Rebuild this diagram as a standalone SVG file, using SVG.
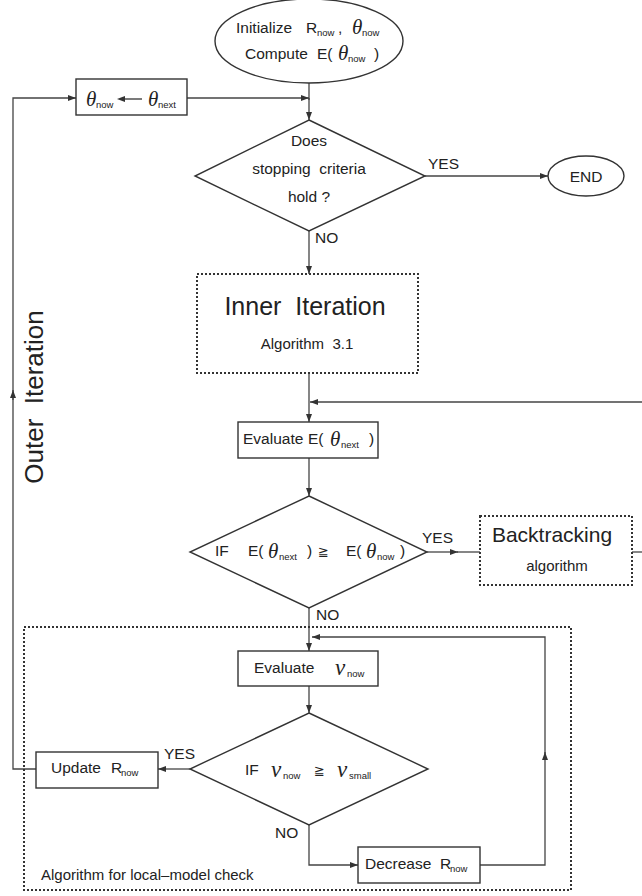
<svg xmlns="http://www.w3.org/2000/svg" width="642" height="896" viewBox="0 0 642 896">
<style>
text{font-family:"Liberation Sans","DejaVu Sans",sans-serif;fill:#222;font-size:15.5px;white-space:pre}
.g{font-family:"Liberation Serif","DejaVu Serif",serif;font-style:italic;font-size:21px}
.s{font-size:9.5px}
.sym{font-family:"DejaVu Sans",sans-serif;font-size:13px}
.shape{fill:#fff;stroke:#333;stroke-width:1.4}
.dot{fill:#fff;stroke:#333;stroke-width:2;stroke-dasharray:2 2}
.ln{fill:none;stroke:#444;stroke-width:1.3}
.lnm{fill:none;stroke:#444;stroke-width:1.3;marker-end:url(#ah)}
</style>
<defs>
<marker id="ah" viewBox="0 0 8 6" refX="8" refY="3" markerWidth="8" markerHeight="6" markerUnits="userSpaceOnUse" orient="auto">
<path d="M0,0 L8,3 L0,6 z" fill="#333"/>
</marker>
</defs>
<rect width="642" height="896" fill="#fff"/>

<g id="connectors">
<line class="ln" x1="309" y1="83" x2="309" y2="100"/>
<line class="lnm" x1="309" y1="98" x2="309" y2="120"/>
<line class="lnm" x1="187" y1="98" x2="309" y2="98"/>
<line class="lnm" x1="425" y1="176" x2="548" y2="176"/>
<line class="lnm" x1="309" y1="231" x2="309" y2="274"/>
<line class="lnm" x1="309" y1="373" x2="309" y2="422"/>
<line class="lnm" x1="642" y1="402" x2="310" y2="402"/>
<line class="ln" x1="632" y1="552" x2="642" y2="552"/>
<line class="lnm" x1="309" y1="458" x2="309" y2="496"/>
<line class="lnm" x1="427" y1="552" x2="458" y2="552"/>
<line class="ln" x1="457" y1="552" x2="480" y2="552"/>
<line class="lnm" x1="309" y1="608" x2="309" y2="651"/>
<line class="lnm" x1="309" y1="686" x2="309" y2="713"/>
<line class="lnm" x1="190" y1="769" x2="158" y2="769"/>
<polyline class="ln" points="36,769 13,769 13,392"/>
<line class="lnm" x1="13" y1="400" x2="13" y2="390"/>
<polyline class="lnm" points="13,392 13,98 76,98"/>
<polyline class="lnm" points="309,825 309,865 358,865"/>
<polyline class="lnm" points="480,865 545,865 545,752"/>
<polyline class="lnm" points="545,754 545,637 312,637"/>
</g>

<g id="start">
<ellipse class="shape" cx="309" cy="41" rx="94" ry="42"/>
<text y="33"><tspan x="236">Initialize</tspan><tspan x="306">R</tspan><tspan class="s" x="317" dy="3">now</tspan><tspan x="338" dy="-3">,</tspan></text>
<text class="g" x="352" y="34">θ</text><text class="s" x="362" y="36">now</text>
<text y="59"><tspan x="245">Compute</tspan><tspan x="317">E(</tspan></text>
<text class="g" x="338" y="60">θ</text><text class="s" x="348" y="62">now</text><text x="374" y="59">)</text>
</g>

<g id="update-theta">
<rect class="shape" x="76" y="79" width="111" height="36"/>
<text class="g" x="86" y="106">θ</text><text class="s" x="96" y="108">now</text>
<line x1="124" y1="99" x2="142" y2="99" stroke="#333" stroke-width="1.3"/>
<path d="M117,99 L125,96 L125,102 z" fill="#333"/>
<text class="g" x="148" y="106">θ</text><text class="s" x="158" y="108">next</text>
</g>

<g id="stop-check">
<polygon class="shape" points="309,120 425,176 309,231 195,176"/>
<text x="309" y="146" text-anchor="middle">Does</text>
<text x="309" y="174" text-anchor="middle">stopping  criteria</text>
<text x="309" y="202" text-anchor="middle">hold ?</text>
<text x="428" y="169">YES</text>
<text x="315" y="243">NO</text>
</g>

<g id="end">
<ellipse class="shape" cx="586" cy="176" rx="38" ry="20"/>
<text x="586" y="182" text-anchor="middle">END</text>
</g>

<g id="inner">
<rect class="dot" x="197" y="274" width="221" height="99"/>
<text x="305" y="315" text-anchor="middle" style="font-size:25px">Inner  Iteration</text>
<text x="307" y="349" text-anchor="middle" style="font-size:15px">Algorithm  3.1</text>
</g>

<g id="evaluate-e">
<rect class="shape" x="238" y="422" width="140" height="36"/>
<text x="243" y="444">Evaluate</text><text x="308" y="444">E(</text>
<text class="g" x="330" y="446">θ</text><text class="s" x="341" y="448">next</text><text x="369" y="444">)</text>
</g>

<g id="e-check">
<polygon class="shape" points="309,496 427,552 309,608 190,552"/>
<text x="215" y="556">IF</text><text x="248" y="556">E(</text>
<text class="g" x="268" y="558">θ</text><text class="s" x="279" y="560">next</text><text x="307" y="556">)</text>
<text class="sym" x="318" y="556">≧</text>
<text x="346" y="556">E(</text>
<text class="g" x="366" y="558">θ</text><text class="s" x="377" y="560">now</text><text x="400" y="556">)</text>
<text x="422" y="543">YES</text>
<text x="316" y="620">NO</text>
</g>

<g id="backtracking">
<rect class="dot" x="480" y="516" width="152" height="69"/>
<text x="552" y="542" text-anchor="middle" style="font-size:21px">Backtracking</text>
<text x="557" y="571" text-anchor="middle" style="font-size:15px">algorithm</text>
</g>

<g id="outer-label">
<text transform="translate(43,397) rotate(-90)" text-anchor="middle" style="font-size:26px">Outer  Iteration</text>
</g>

<g id="local-model">
<rect class="dot" x="24" y="627" width="547" height="263" style="fill:none"/>
<text x="41" y="880" style="font-size:15px">Algorithm for local–model check</text>
</g>

<g id="evaluate-nu">
<rect class="shape" x="238" y="651" width="140" height="35"/>
<text x="254" y="673">Evaluate</text>
<text class="g" x="335" y="675" style="font-size:23px">ν</text><text class="s" x="347" y="677">now</text>
</g>

<g id="nu-check">
<polygon class="shape" points="309,713 428,769 309,825 190,769"/>
<text x="245" y="775">IF</text>
<text class="g" x="271" y="777" style="font-size:23px">ν</text><text class="s" x="283" y="779">now</text>
<text class="sym" x="314" y="775">≧</text>
<text class="g" x="337" y="777" style="font-size:23px">ν</text><text class="s" x="349" y="779">small</text>
<text x="164" y="759">YES</text>
<text x="275" y="838">NO</text>
</g>

<g id="update-r">
<rect class="shape" x="36" y="752" width="122" height="36"/>
<text x="51" y="773">Update  </text><text x="111" y="773">R</text><text class="s" x="121" y="776">now</text>
</g>

<g id="decrease-r">
<rect class="shape" x="358" y="847" width="122" height="36"/>
<text x="365" y="869">Decrease</text><text x="440" y="869">R</text><text class="s" x="450" y="872">now</text>
</g>
</svg>
